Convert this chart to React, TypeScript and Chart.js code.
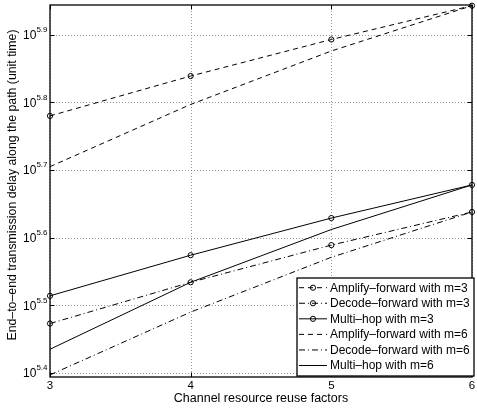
import { useEffect, useRef } from 'react';
import { Chart, registerables } from 'chart.js';
Chart.register(...registerables);

const reuseFactors = [3, 4, 5, 6];
const amplifyM3 = [602600, 690200, 781600, 877000];
const decodeM3 = [297200, 342000, 388150, 434500];
const multihopM3 = [326600, 375000, 425600, 476400];
const amplifyM6 = [507000, 626600, 751600, 877000];
const decodeM6 = [249500, 309000, 372400, 434500];
const multihopM6 = [272300, 342000, 409300, 476400];

const seriesLabels = [
  'Amplify\u2013forward with m=3',
  'Decode\u2013forward with m=3',
  'Multi\u2013hop with m=3',
  'Amplify\u2013forward with m=6',
  'Decode\u2013forward with m=6',
  'Multi\u2013hop with m=6',
];
const xTickLabels = ['3', '4', '5', '6'];
const yTickExponents = ['5.4', '5.5', '5.6', '5.7', '5.8', '5.9'];
const yMinExp = 5.394;
const yMaxExp = 5.944;
const xTitle = 'Channel resource reuse factors';
const yTitle = 'End\u2013to\u2013end transmission delay along the path (unit time)';

const FONT = '"Liberation Sans", Arial, Helvetica, sans-serif';
const DASH = [5, 4];
const DASHDOT = [6, 3, 1, 3];

const framePlugin = {
  id: 'frame',
  beforeDatasetsDraw(chart: any) {
    const { ctx, chartArea: a, scales } = chart;
    ctx.save();
    ctx.strokeStyle = '#9a9a9a';
    ctx.lineWidth = 1;
    ctx.setLineDash([1, 2]);
    yTickExponents.forEach((e) => {
      const py = Math.round(scales.y.getPixelForValue(Math.pow(10, Number(e)))) + 0.5;
      ctx.beginPath();
      ctx.moveTo(a.left, py);
      ctx.lineTo(a.right, py);
      ctx.stroke();
    });
    xTickLabels.forEach((t) => {
      const px = Math.round(scales.x.getPixelForValue(Number(t))) + 0.5;
      ctx.beginPath();
      ctx.moveTo(px, a.top);
      ctx.lineTo(px, a.bottom);
      ctx.stroke();
    });
    ctx.restore();
  },
  afterDraw(chart: any) {
    const { ctx, chartArea: a, scales } = chart;
    ctx.save();
    ctx.setLineDash([]);
    ctx.strokeStyle = '#000';
    ctx.lineWidth = 1.3;
    ctx.strokeRect(a.left, a.top, a.right - a.left, a.bottom - a.top);
    // inward tick marks
    ctx.lineWidth = 1;
    const tl = 4.5;
    yTickExponents.forEach((e) => {
      const py = Math.round(scales.y.getPixelForValue(Math.pow(10, Number(e)))) + 0.5;
      ctx.beginPath();
      ctx.moveTo(a.left, py); ctx.lineTo(a.left + tl, py);
      ctx.moveTo(a.right, py); ctx.lineTo(a.right - tl, py);
      ctx.stroke();
    });
    xTickLabels.forEach((t) => {
      const px = Math.round(scales.x.getPixelForValue(Number(t))) + 0.5;
      ctx.beginPath();
      ctx.moveTo(px, a.bottom); ctx.lineTo(px, a.bottom - tl);
      ctx.moveTo(px, a.top); ctx.lineTo(px, a.top + tl);
      ctx.stroke();
    });
    ctx.fillStyle = '#000';
    // y tick labels with superscripts
    yTickExponents.forEach((e) => {
      const py = scales.y.getPixelForValue(Math.pow(10, Number(e)));
      ctx.font = `8px ${FONT}`;
      const supW = ctx.measureText(e).width;
      const supX = a.left - 2.5 - supW;
      ctx.textAlign = 'left';
      ctx.textBaseline = 'middle';
      ctx.fillText(e, supX, py - 5);
      ctx.font = `12px ${FONT}`;
      ctx.textAlign = 'right';
      ctx.fillText('10', supX, py + 1);
    });
    // x tick labels
    ctx.font = `11.5px ${FONT}`;
    ctx.textAlign = 'center';
    ctx.textBaseline = 'middle';
    xTickLabels.forEach((t) => {
      const px = scales.x.getPixelForValue(Number(t));
      ctx.fillText(t, px, a.bottom + 9);
    });
    // titles
    ctx.font = `12.5px ${FONT}`;
    ctx.fillText(xTitle, (a.left + a.right) / 2, a.bottom + 22);
    ctx.save();
    ctx.translate(12.5, 185);
    ctx.rotate(-Math.PI / 2);
    ctx.font = `12.3px ${FONT}`;
    ctx.fillText(yTitle, 0, 0);
    ctx.restore();

    // legend
    const bx = 297, by = 278, bw = 177, bh = 98;
    ctx.fillStyle = '#fff';
    ctx.fillRect(bx, by, bw, bh);
    ctx.strokeStyle = '#000';
    ctx.lineWidth = 1.3;
    ctx.strokeRect(bx, by, bw, bh);
    ctx.font = `12px ${FONT}`;
    ctx.textAlign = 'left';
    ctx.textBaseline = 'middle';
    chart.data.datasets.forEach((ds: any, i: number) => {
      const cy = by + 9.7 + i * 15.56;
      ctx.strokeStyle = '#000';
      ctx.lineWidth = 1;
      ctx.setLineDash(ds.borderDash || []);
      ctx.beginPath();
      ctx.moveTo(bx + 2, cy);
      ctx.lineTo(bx + 30, cy);
      ctx.stroke();
      ctx.setLineDash([]);
      if (ds.pointRadius > 0) {
        ctx.beginPath();
        ctx.arc(bx + 16, cy, ds.pointRadius, 0, Math.PI * 2);
        ctx.stroke();
      }
      ctx.fillStyle = '#000';
      ctx.fillText(ds.label, bx + 33, cy + 0.5);
    });
    ctx.restore();
  },
};

function makeSet(label: string, values: number[], dash: number[], marker: boolean) {
  return {
    label,
    data: values.map((v, i) => ({ x: reuseFactors[i], y: v })),
    borderColor: '#000',
    borderWidth: 1,
    borderDash: dash,
    pointRadius: marker ? 2.6 : 0,
    pointBorderWidth: 1,
    pointBorderColor: '#000',
    pointBackgroundColor: 'rgba(255,255,255,0)',
    pointStyle: 'circle',
    tension: 0,
    fill: false,
    clip: 6,
  };
}

export default function App() {
  const ref = useRef<HTMLCanvasElement>(null);
  useEffect(() => {
    document.body.style.margin = '0';
    const chart = new Chart(ref.current as HTMLCanvasElement, {
      type: 'line',
      data: {
        datasets: [
          makeSet(seriesLabels[0], amplifyM3, DASH, true),
          makeSet(seriesLabels[1], decodeM3, DASHDOT, true),
          makeSet(seriesLabels[2], multihopM3, [], true),
          makeSet(seriesLabels[3], amplifyM6, DASH, false),
          makeSet(seriesLabels[4], decodeM6, DASHDOT, false),
          makeSet(seriesLabels[5], multihopM6, [], false),
        ] as any,
      },
      options: {
        animation: false,
        responsive: false,
        maintainAspectRatio: false,
        layout: { padding: { left: 0, right: 2, top: 4, bottom: 0 } },
        plugins: { legend: { display: false }, tooltip: { enabled: false } },
        scales: {
          x: {
            type: 'linear',
            min: 3,
            max: 6,
            ticks: { stepSize: 1, display: false },
            grid: { display: false },
            border: { display: false },
            afterFit: (s: any) => { s.height = 34; },
          },
          y: {
            type: 'logarithmic',
            min: Math.pow(10, yMinExp),
            max: Math.pow(10, yMaxExp),
            ticks: { display: false },
            grid: { display: false },
            border: { display: false },
            afterBuildTicks: (s: any) => {
              s.ticks = yTickExponents.map((e) => ({ value: Math.pow(10, Number(e)) }));
            },
            afterFit: (s: any) => { s.width = 50; },
          },
        },
      },
      plugins: [framePlugin],
    });
    return () => chart.destroy();
  }, []);
  return (
    <div style={{ width: 477, height: 411, background: '#fff' }}>
      <canvas ref={ref} width={477} height={411} style={{ display: 'block' }} />
    </div>
  );
}
